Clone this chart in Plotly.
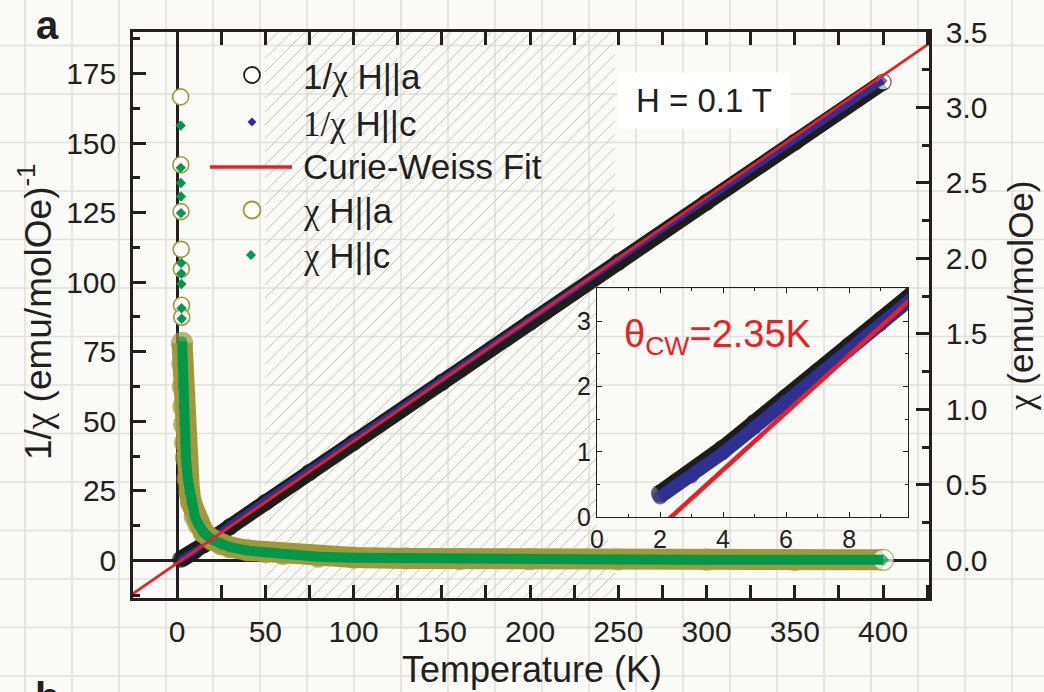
import plotly.graph_objects as go

# ---------------------------------------------------------------- data
# inverse susceptibility 1/chi, (emu/molOe)^-1
temp_inv = [2, 3, 4, 5, 6, 7, 8, 9, 10, 15, 20, 30, 50, 75, 100, 150, 200, 250, 300, 350, 400]
inv_chi_a = [0.36, 0.68, 1.05, 1.44, 1.83, 2.22, 2.62, 3.01, 3.41, 5.55, 7.75, 12.1,
             20.8, 31.6, 42.4, 64.0, 85.6, 107.2, 128.8, 150.4, 172.0]
inv_chi_c = [0.30, 0.62, 0.98, 1.37, 1.77, 2.16, 2.56, 2.95, 3.35, 5.60, 8.10, 12.9,
             21.8, 32.7, 43.5, 65.1, 86.7, 108.3, 129.8, 151.2, 172.4]

# susceptibility chi, emu/molOe
temp_chi_a = [2.0, 2.1, 2.2, 2.3, 2.4, 2.5, 2.6, 2.8, 3.0, 3.3, 3.6, 4.0, 4.5, 5.0,
              6, 7, 8, 10, 12, 15, 20, 25, 30, 40, 50, 60, 80, 100, 130, 160, 200,
              250, 300, 350, 400]
chi_a = [3.07, 2.62, 2.31, 2.06, 1.93, 1.69, 1.61, 1.44, 1.30, 1.15, 1.02, 0.90, 0.78, 0.68,
         0.54, 0.45, 0.38, 0.29, 0.24, 0.185, 0.135, 0.105, 0.087, 0.066, 0.053, 0.042,
         0.024, 0.018, 0.012, 0.009, 0.007, 0.005, 0.004, 0.003, 0.003]
temp_chi_c = [2.0, 2.05, 2.1, 2.15, 2.2, 2.3, 2.35, 2.4, 2.5, 2.6, 2.8, 3.0, 3.3, 3.6,
              4.0, 4.5, 5.0, 6, 7, 8, 10, 12, 15, 20, 25, 30, 40, 50, 60, 80, 100, 130,
              160, 200, 250, 300, 350, 400]
chi_c = [2.88, 2.60, 2.50, 2.41, 2.30, 1.97, 1.90, 1.83, 1.67, 1.60, 1.45, 1.30, 1.15, 1.02,
         0.90, 0.78, 0.68, 0.54, 0.45, 0.38, 0.29, 0.24, 0.185, 0.135, 0.105, 0.087, 0.064,
         0.052, 0.041, 0.023, 0.017, 0.012, 0.009, 0.007, 0.005, 0.004, 0.003, 0.003]
n_sparse_a = 7      # isolated low-temperature points of chi H||a
n_sparse_c = 10     # isolated low-temperature points of chi H||c

# Curie-Weiss fit 1/chi = (T - theta) / C
theta_cw = 2.35
curie_c = 2.28
fit_temp = [-25, 426]
fit_inv = [(t - theta_cw) / curie_c for t in fit_temp]

# ---------------------------------------------------------------- style
INK = "#231f20"
BLACK = "#1d1d1b"
BLUE = "#2e3192"
RED = "#ee1d25"
OLIVE = "#a0983a"
GREEN = "#00984a"
FONT = "Liberation Sans, Arial, sans-serif"
SERIF = "Liberation Serif"

W_FIG, H_FIG = 1044, 692
L, R, T, B = 133, 929, 32, 598          # plot area in pixels
PW, PH = R - L, B - T


def px(x):
    return (x - L) / PW


def py(y):
    return (B - y) / PH


def band(x, y, color, width, end_symbol, xa, ya, end_fill=None, edge=1.2):
    """Dense data drawn as a thick stroke; round joins, a real marker at the last point."""
    n = len(x)
    fills = [color] * n
    symbols = ["circle"] * n
    sizes = [width] * n
    if end_fill is not None:
        fills[-1] = end_fill
    symbols[-1] = end_symbol
    if end_symbol == "diamond":
        sizes[-1] = width * 0.95
    return go.Scatter(
        x=x, y=y, xaxis=xa, yaxis=ya, mode="lines+markers",
        line=dict(color=color, width=width),
        marker=dict(symbol=symbols, size=sizes, color=fills,
                    line=dict(color=color, width=edge)),
        showlegend=False, hoverinfo="skip", cliponaxis=True)


fig = go.Figure()

# main panel: 1/chi on the left axis
fig.add_trace(band(temp_inv, inv_chi_a, BLACK, 16, "circle", "x", "y", end_fill="white"))
fig.add_trace(band(temp_inv, inv_chi_c, BLUE, 6, "diamond", "x", "y"))

# chi on the right axis: isolated points, then the dense band
fig.add_trace(go.Scatter(
    x=temp_chi_a[:n_sparse_a], y=chi_a[:n_sparse_a], xaxis="x", yaxis="y2", mode="markers",
    marker=dict(symbol="circle", size=16, color="white", line=dict(color=OLIVE, width=1.6)),
    showlegend=False, hoverinfo="skip"))
fig.add_trace(band(temp_chi_a[n_sparse_a:], chi_a[n_sparse_a:], OLIVE, 21, "circle",
                   "x", "y2", end_fill="white"))
fig.add_trace(go.Scatter(
    x=temp_chi_c[:n_sparse_c], y=chi_c[:n_sparse_c], xaxis="x", yaxis="y2", mode="markers",
    marker=dict(symbol="diamond", size=8, color=GREEN),
    showlegend=False, hoverinfo="skip"))
fig.add_trace(band(temp_chi_c[n_sparse_c:], chi_c[n_sparse_c:], GREEN, 10, "diamond",
                   "x", "y2", edge=0))

# Curie-Weiss fit on top of everything
fig.add_trace(go.Scatter(x=fit_temp, y=fit_inv, xaxis="x", yaxis="y3", mode="lines",
                         line=dict(color=RED, width=2.8), showlegend=False, hoverinfo="skip"))

# inset: low-temperature 1/chi
fig.add_trace(band(temp_inv, inv_chi_a, BLACK, 17, "circle", "x2", "y4"))
fig.add_trace(band(temp_inv, inv_chi_c, BLUE, 13, "circle", "x2", "y4"))
fig.add_trace(go.Scatter(x=fit_temp, y=fit_inv, xaxis="x2", yaxis="y4", mode="lines",
                         line=dict(color=RED, width=4.5), showlegend=False, hoverinfo="skip"))

# ---------------------------------------------------------------- axes
main_ticks = dict(ticks="inside", ticklen=13, tickwidth=2.5, tickcolor=INK,
                  showline=True, linewidth=2.5, linecolor=INK, showgrid=False,
                  tickfont=dict(size=30, color=INK, family=FONT))
inset_ticks = dict(ticks="inside", ticklen=5, tickwidth=1.2, tickcolor=INK,
                   showline=True, linewidth=1.2, linecolor=INK, mirror="allticks",
                   showgrid=False, zeroline=False,
                   tickfont=dict(size=25, color=INK, family=FONT))

fig.update_layout(
    xaxis=dict(domain=[0, 1], range=[-25, 426], tick0=0, dtick=50, mirror="allticks",
               zeroline=True, zerolinewidth=2.5, zerolinecolor=INK,
               minor=dict(dtick=25, ticks="inside", ticklen=7, tickwidth=2.5, tickcolor=INK),
               ticklabelstandoff=5, **main_ticks),
    yaxis=dict(domain=[0, 1], range=[-13.57, 190], tick0=0, dtick=25,
               zeroline=True, zerolinewidth=2.5, zerolinecolor=INK,
               minor=dict(dtick=12.5, ticks="inside", ticklen=7, tickwidth=2.5, tickcolor=INK),
               ticklabelstandoff=8, **main_ticks),
    yaxis2=dict(overlaying="y", side="right", range=[-0.25, 3.5], tick0=0, dtick=0.5,
                tickformat=".1f", zeroline=False,
                minor=dict(dtick=0.25, ticks="inside", ticklen=7, tickwidth=2.5, tickcolor=INK),
                ticklabelstandoff=8, **main_ticks),
    yaxis3=dict(overlaying="y", range=[-13.57, 190], visible=False),
    xaxis2=dict(domain=[px(597), px(908)], anchor="y4", range=[0, 9.87], tick0=0, dtick=2,
                minor=dict(dtick=1, ticks="inside", ticklen=3, tickwidth=1.2, tickcolor=INK),
                ticklabelstandoff=0, **inset_ticks),
    yaxis4=dict(domain=[py(517), py(288)], anchor="x2", range=[0, 3.51], tick0=0, dtick=1,
                minor=dict(dtick=0.5, ticks="inside", ticklen=3, tickwidth=1.2, tickcolor=INK),
                ticklabelstandoff=0, **inset_ticks),
)

# ---------------------------------------------------------------- background
grid_segs = []
gx = 25
while gx < W_FIG:
    grid_segs.append(f"M{px(gx):.5f},{py(-5):.5f}L{px(gx):.5f},{py(H_FIG + 5):.5f}")
    gx += 47
gy = 676.0
while gy > 0:
    grid_segs.append(f"M{px(-5):.5f},{py(gy):.5f}L{px(W_FIG + 5):.5f},{py(gy):.5f}")
    gy -= 48.5

hatch_rects = [(265, 597, T, B), (597, 615, T, 283), (597, 615, 540, B)]
hatch_segs = []
c = 265 + T
while c <= 615 + B:
    for (x0, x1, y0, y1) in hatch_rects:
        xa, xb = max(x0, c - y1), min(x1, c - y0)
        if xb > xa:
            hatch_segs.append(f"M{px(xa):.5f},{py(c - xa):.5f}L{px(xb):.5f},{py(c - xb):.5f}")
    c += 13.3

shapes = [
    dict(type="path", xref="paper", yref="paper", layer="below",
         path="".join(grid_segs), line=dict(color="#e0e2da", width=1.6)),
    dict(type="path", xref="paper", yref="paper", layer="below",
         path="".join(hatch_segs), line=dict(color="#c4c4c2", width=1)),
]

# legend symbols
def diamond(cx, cy, h):
    return (f"M{px(cx):.5f},{py(cy - h):.5f}L{px(cx + h):.5f},{py(cy):.5f}"
            f"L{px(cx):.5f},{py(cy + h):.5f}L{px(cx - h):.5f},{py(cy):.5f}Z")

shapes += [
    dict(type="circle", xref="paper", yref="paper", x0=px(244), x1=px(260), y0=py(83), y1=py(67),
         line=dict(color=BLACK, width=1.8), fillcolor="white"),
    dict(type="path", xref="paper", yref="paper", path=diamond(252, 122, 4.5),
         line=dict(width=0), fillcolor=BLUE),
    dict(type="line", xref="paper", yref="paper", x0=px(210), x1=px(292), y0=py(167), y1=py(167),
         line=dict(color=RED, width=3.5)),
    dict(type="circle", xref="paper", yref="paper", x0=px(243.5), x1=px(260.5), y0=py(218.5),
         y1=py(201.5), line=dict(color=OLIVE, width=1.8), fillcolor="white"),
    dict(type="path", xref="paper", yref="paper", path=diamond(251, 255, 5),
         line=dict(width=0), fillcolor=GREEN),
]

chi_s = f"<span style='font-family:{SERIF}'>χ</span>"
legend_rows = [
    (77, f"1/{chi_s} H||a"),
    (124, f"<span style='font-family:{SERIF}'>1/χ</span> H||c"),
    (166, "Curie-Weiss Fit"),
    (211, f"{chi_s} H||a"),
    (256, f"{chi_s} H||c"),
]
annotations = []
for y_row, label in legend_rows:
    annotations.append(dict(xref="paper", yref="paper", x=px(301), y=py(y_row),
                            xanchor="left", yanchor="middle", text=label, showarrow=False,
                            font=dict(size=35, color=INK, family=FONT)))

annotations += [
    dict(xref="paper", yref="paper", x=px(704), y=py(101), text="H = 0.1 T", showarrow=False,
         xanchor="center", yanchor="middle", bgcolor="white", borderpad=9, width=154,
         font=dict(size=33, color=INK, family=FONT)),
    dict(xref="paper", yref="paper", x=px(622), y=py(337),
         text=f"θ<sub>CW</sub>={theta_cw}K", showarrow=False, xanchor="left",
         yanchor="middle", font=dict(size=38, color=RED, family=FONT)),
    dict(xref="paper", yref="paper", x=px(532), y=py(669), text="Temperature (K)",
         showarrow=False, xanchor="center", yanchor="middle",
         font=dict(size=36, color=INK, family=FONT)),
    dict(xref="paper", yref="paper", x=px(35), y=py(312), textangle=-90,
         text=f"1/{chi_s} (emu/molOe)<sup>-1</sup>", showarrow=False,
         xanchor="center", yanchor="middle", font=dict(size=37, color=INK, family=FONT)),
    dict(xref="paper", yref="paper", x=px(1021), y=py(296), textangle=-90,
         text=f"{chi_s} (emu/molOe)", showarrow=False,
         xanchor="center", yanchor="middle", font=dict(size=35, color=INK, family=FONT)),
    dict(xref="paper", yref="paper", x=px(47), y=py(25), text="<b>a</b>", showarrow=False,
         xanchor="center", yanchor="middle", font=dict(size=40, color=INK, family=FONT)),
    dict(xref="paper", yref="paper", x=px(47), y=py(697), text="<b>b</b>", showarrow=False,
         xanchor="center", yanchor="middle", font=dict(size=40, color=INK, family=FONT)),
]

fig.update_layout(
    template="none",
    width=W_FIG, height=H_FIG,
    margin=dict(l=L, r=W_FIG - R, t=T, b=H_FIG - B, pad=0),
    paper_bgcolor="#fafbf6",
    plot_bgcolor="rgba(0,0,0,0)",
    font=dict(family=FONT, color=INK),
    showlegend=False,
    shapes=shapes,
    annotations=annotations,
)

fig.write_html("out.html", config={"displayModeBar": False})
